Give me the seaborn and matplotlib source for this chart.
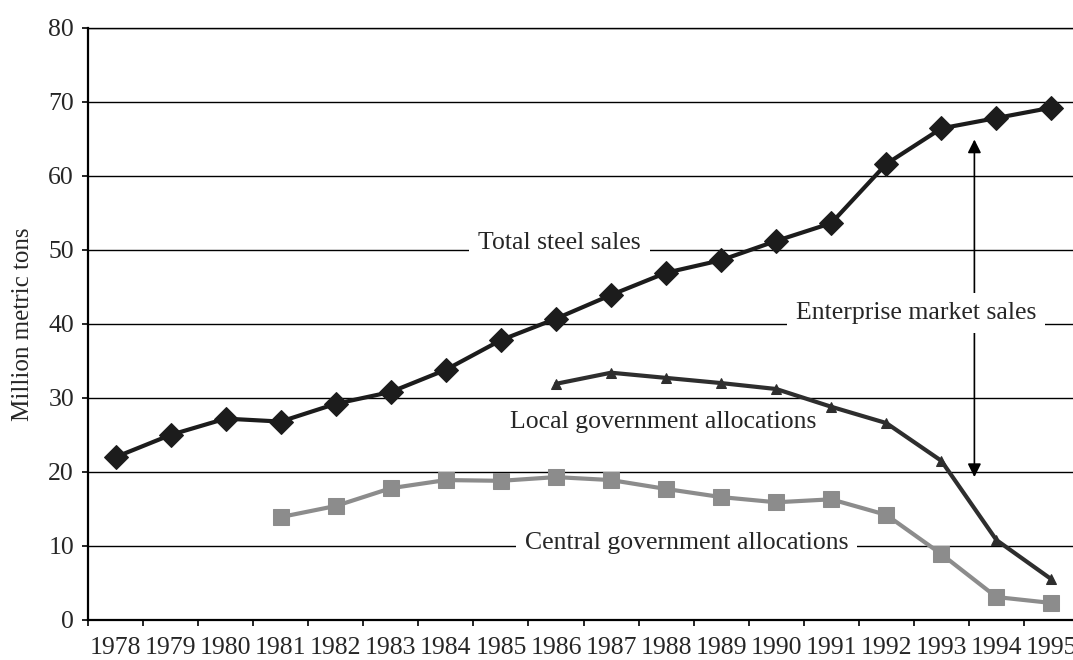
import numpy as np
import seaborn as sns
import matplotlib.pyplot as plt

# --- data (million metric tons) ---
years = list(range(1978, 1996))
total_sales = [22.0, 25.0, 27.2, 26.8, 29.2, 30.8, 33.8, 37.8, 40.7,
               43.9, 46.9, 48.6, 51.2, 53.6, 61.6, 66.4, 67.8, 69.2]
local_years = list(range(1986, 1996))
local_alloc = [31.9, 33.4, 32.7, 32.0, 31.2, 28.8, 26.6, 21.5, 10.8, 5.5]
central_years = list(range(1981, 1996))
central_alloc = [13.9, 15.4, 17.8, 18.9, 18.8, 19.3, 18.9, 17.7, 16.6,
                 15.9, 16.3, 14.2, 8.9, 3.1, 2.3]

sns.set_style('white')
plt.rcParams['font.family'] = ['Liberation Serif', 'DejaVu Serif']
plt.rcParams['font.size'] = 18.5

fig = plt.figure(figsize=(10.73, 6.6), dpi=100)
ax = fig.add_axes([88 / 1073, 40 / 660, (1079 - 88) / 1073, (620 - 27.7) / 660])

pos = {y: i for i, y in enumerate(years)}

sns.lineplot(x=[pos[y] for y in years], y=total_sales, ax=ax, color='#1c1c1c',
             linewidth=3, marker='D', markersize=12, markeredgecolor='#1c1c1c',
             zorder=3)
sns.lineplot(x=[pos[y] for y in local_years], y=local_alloc, ax=ax, color='#2e2e2e',
             linewidth=3, marker='^', markersize=7, markeredgecolor='#2e2e2e',
             zorder=3)
sns.lineplot(x=[pos[y] for y in central_years], y=central_alloc, ax=ax, color='#8c8c8c',
             linewidth=3, marker='s', markersize=12, markeredgecolor='#8c8c8c',
             zorder=3)

# --- axes ---
n = len(years)
ax.set_xlim(-0.5, n - 0.5)
ax.set_ylim(0, 80)
ax.set_yticks(np.arange(0, 81, 10))
ax.set_xticks(np.arange(-0.5, n, 1))
ax.set_xticklabels([])
ax.set_xticks(np.arange(n), minor=True)
ax.set_xticklabels([str(y) for y in years], minor=True)
ax.tick_params(axis='x', which='major', direction='out', length=4, width=1.2,
               color='black', bottom=True)
ax.tick_params(axis='x', which='minor', length=0, pad=12.5, labelsize=18.5)
ax.tick_params(axis='y', direction='out', length=4, width=1.2, color='black',
               left=True, pad=6, labelsize=18.5)

ax.yaxis.grid(True, color='black', linewidth=1.0)
ax.xaxis.grid(False)
ax.set_axisbelow(True)

for side in ['left', 'bottom']:
    ax.spines[side].set_color('black')
    ax.spines[side].set_linewidth(1.6)
ax.spines['right'].set_visible(False)
ax.spines['top'].set_color('black')
ax.spines['top'].set_linewidth(1.0)

ax.set_xlabel('')
ax.set_ylabel('Million metric tons', fontsize=18, labelpad=10)

# --- annotations ---
box = dict(facecolor='white', edgecolor='none', boxstyle='square,pad=0.35')
ax.text(8.06, 50.9, 'Total steel sales', ha='center', va='center', bbox=box, zorder=1.5)
ax.text(14.54, 41.5, 'Enterprise market sales', ha='center', va='center', bbox=box, zorder=1.5)
ax.text(9.95, 26.8, 'Local government allocations', ha='center', va='center', bbox=box, zorder=1.5)
ax.text(10.37, 10.4, 'Central government allocations', ha='center', va='center', bbox=box, zorder=1.5)

ax.annotate('', xy=(15.6, 64.9), xytext=(15.6, 19.3),
            arrowprops=dict(arrowstyle='<|-|>', color='black', lw=1.2,
                            mutation_scale=20, shrinkA=0, shrinkB=0),
            zorder=1.2)

fig.savefig('out.png', dpi=100)
